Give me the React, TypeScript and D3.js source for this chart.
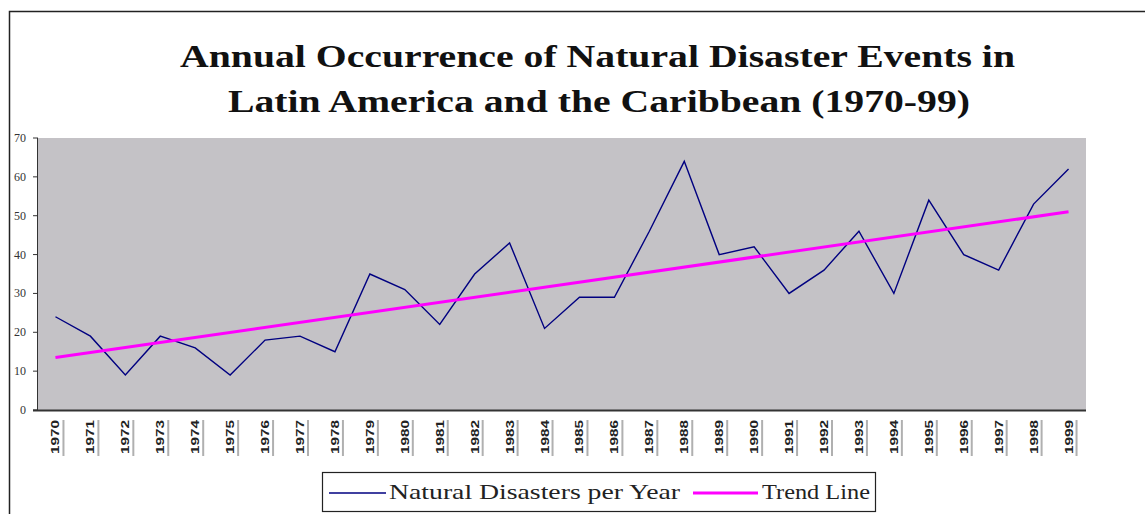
import React from "react";
import * as d3 from "d3";

const years: string[] = [
  "1970","1971","1972","1973","1974","1975","1976","1977","1978","1979",
  "1980","1981","1982","1983","1984","1985","1986","1987","1988","1989",
  "1990","1991","1992","1993","1994","1995","1996","1997","1998","1999",
];
const disasters: number[] = [
  24, 19, 9, 19, 16, 9, 18, 19, 15, 35,
  31, 22, 35, 43, 21, 29, 29, 46, 64, 40,
  42, 30, 36, 46, 30, 54, 40, 36, 53, 62,
];
const trendYears: string[] = ["1970", "1999"];
const trendValues: number[] = [13.5, 51];
const yTicks: number[] = [0, 10, 20, 30, 40, 50, 60, 70];
const titleLines: string[] = [
  "Annual Occurrence of Natural Disaster Events in",
  "Latin America and the Caribbean (1970-99)",
];
const legendLabels: string[] = ["Natural Disasters per Year", "Trend Line"];

const W = 1145, H = 514;
const plot = { left: 38, right: 1086, top: 138, bottom: 410 };

export default function App() {
  const x = d3.scaleBand<string>().domain(years).range([plot.left, plot.right]);
  const y = d3.scaleLinear().domain([0, 70]).range([plot.bottom, plot.top]);
  const cx = (yr: string) => (x(yr) as number) + x.bandwidth() / 2;

  const line = d3.line<number>().x((_, i) => cx(years[i])).y((d) => y(d));
  const trend = d3.line<number>().x((_, i) => cx(trendYears[i])).y((d) => y(d));

  return (
    <div style={{ position: "fixed", left: 0, top: 0 }}>
      <svg width={W} height={H} style={{ display: "block", background: "#fff" }}>
        {/* outer frame */}
        <rect x={9.5} y={11.5} width={1200} height={600} fill="none" stroke="#222" strokeWidth={1.5} />

        {/* title */}
        {titleLines.map((t, i) => (
          <text
            key={i}
            x={i === 0 ? 180 : 228}
            y={i === 0 ? 67 : 112}
            textLength={i === 0 ? 835 : 742}
            lengthAdjust="spacingAndGlyphs"
            fontFamily="'Liberation Serif', 'Times New Roman', serif"
            fontWeight="bold"
            fontSize={31}
            fill="#111"
          >
            {t}
          </text>
        ))}

        {/* plot area */}
        <rect
          x={plot.left}
          y={plot.top}
          width={plot.right - plot.left}
          height={plot.bottom - plot.top}
          fill="#c4c2c6"
        />

        {/* y axis */}
        <line x1={plot.left - 0.5} x2={plot.left - 0.5} y1={plot.top} y2={plot.bottom} stroke="#333" strokeWidth={1} />
        {yTicks.map((t) => (
          <g key={t}>
            <line x1={plot.left - 5} x2={plot.left} y1={y(t)} y2={y(t)} stroke="#333" strokeWidth={1} />
            <text
              x={26}
              y={y(t) + 4}
              textAnchor="end"
              fontFamily="'Liberation Serif', 'Times New Roman', serif"
              fontSize={12}
              fill="#333"
            >
              {t}
            </text>
          </g>
        ))}

        {/* x axis */}
        <line x1={plot.left - 5} x2={plot.right} y1={plot.bottom + 0.5} y2={plot.bottom + 0.5} stroke="#333" strokeWidth={2} />
        {years.map((yr) => (
          <g key={yr}>
            <text
              transform={`translate(${cx(yr) + 4},${420}) rotate(-90)`}
              textAnchor="end"
              textLength={34}
              lengthAdjust="spacingAndGlyphs"
              fontFamily="'Liberation Sans Narrow', 'Liberation Sans', Arial, sans-serif"
              fontWeight="bold"
              fontSize={11}
              fill="#222"
            >
              {yr}
            </text>
            <rect x={cx(yr) + 7} y={420} width={2} height={36} fill="#b0b0b0" />
          </g>
        ))}

        {/* series */}
        <path d={line(disasters) || ""} fill="none" stroke="#000080" strokeWidth={1.4} strokeLinejoin="miter" />
        <path d={trend(trendValues) || ""} fill="none" stroke="#ff00ff" strokeWidth={3} />

        {/* legend */}
        <rect x={322.5} y={472.5} width={553} height={39} fill="#fff" stroke="#222" strokeWidth={1.2} />
        <line x1={329} x2={386} y1={493} y2={493} stroke="#000080" strokeWidth={1.5} />
        <text
          x={389}
          y={499}
          textLength={291}
          lengthAdjust="spacingAndGlyphs"
          fontFamily="'Liberation Serif', 'Times New Roman', serif"
          fontSize={21}
          fill="#222"
        >
          {legendLabels[0]}
        </text>
        <line x1={693} x2={758} y1={493} y2={493} stroke="#ff00ff" strokeWidth={3} />
        <text
          x={762}
          y={499}
          textLength={108}
          lengthAdjust="spacingAndGlyphs"
          fontFamily="'Liberation Serif', 'Times New Roman', serif"
          fontSize={21}
          fill="#222"
        >
          {legendLabels[1]}
        </text>
      </svg>
    </div>
  );
}
